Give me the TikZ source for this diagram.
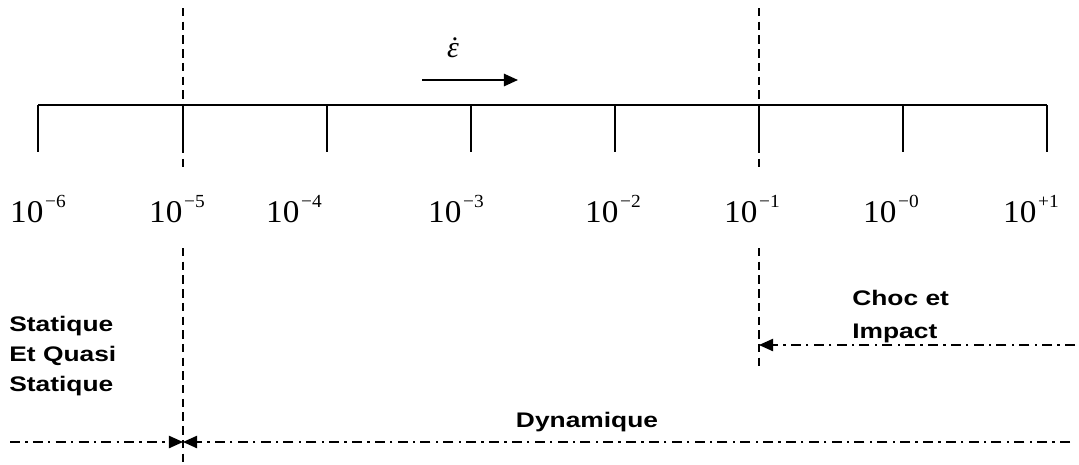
\documentclass[tikz,border=0pt]{standalone}
\usepackage{fontspec}
\setmainfont{Liberation Serif}
\newfontfamily\powerfont[FakeStretch=1.05]{Liberation Serif}
\newfontfamily\zonefont[FakeStretch=1.25]{Liberation Sans}
\usetikzlibrary{arrows.meta,positioning}
\tikzset{
  axisline/.style={line width=1.1pt},
  limitline/.style={line width=0.8pt,dash pattern=on 4.8pt off 3pt},
  rangeline/.style={line width=0.8pt,dash pattern=on 5.7pt off 3pt on 1.3pt off 3pt,-{Triangle[length=8pt,width=7pt]}},
  power/.style={font=\powerfont\fontsize{18}{20}\selectfont,inner sep=0pt},
  zone/.style={font=\zonefont\bfseries\fontsize{12}{17}\selectfont,align=left,inner sep=0pt},
}
\newcommand{\puiss}[1]{10\kern1pt\raisebox{8.5pt}{\fontsize{10.5}{11}\selectfont #1}}

\begin{document}
\begin{tikzpicture}[x=0.02cm,y=-0.02cm]
  \useasboundingbox (0,0) rectangle (1079,464);
  % echelle des vitesses de deformation
  \foreach \i/\x in {1/38,2/183,3/327,4/471,5/615,6/759,7/903,8/1047}{
    \coordinate (t\i) at (\x,105);
    \coordinate (b\i) at (\x,152);
    \draw[axisline] (t\i) -- (b\i);
  }
  \draw[axisline] (t1) -- (t8);
  \foreach \i/\x/\p in {1/38/−6,2/177/−5,3/294/−4,4/456/−3,5/613/−2,6/752/−1,7/891/−0,8/1031/+1}
    \node[power,anchor=base] (l\i) at (\x,222) {\puiss{\p}};
  % sens croissant
  \node[inner sep=0pt,anchor=base,font=\fontsize{17}{20}\selectfont\itshape] (eps) at (453,57) {\accent"02D9 ε};
  \coordinate (ea) at (422,80);
  \coordinate (eb) at (518,80);
  \draw[line width=1.1pt,-{Triangle[length=8pt,width=7pt]}] (ea) -- (eb);
  % limites des domaines
  \coordinate (v2top) at (183,8);
  \coordinate (v2a) at (183,170);
  \coordinate (v2b) at (183,248);
  \coordinate (v2bot) at (183,464);
  \draw[limitline] (v2top) -- (v2a) (v2b) -- (v2bot);
  \coordinate (v6top) at (759,8);
  \coordinate (v6a) at (759,170);
  \coordinate (v6b) at (759,248);
  \coordinate (v6bot) at (759,366);
  \draw[limitline] (v6top) -- (v6a) (v6b) -- (v6bot);
  % domaines
  \node[zone,anchor=north west] (stat) at (9,316) {Statique\\Et Quasi\\Statique};
  \node[zone,anchor=north west,font=\zonefont\bfseries\fontsize{12}{18.8}\selectfont] (choc) at (852,290) {Choc et\\Impact};
  \node[zone,anchor=base] (dyn) at (587,427) {Dynamique};
  \coordinate (sg) at (10,442);
  \coordinate (sd) at (183,442);
  \coordinate (dd) at (1070,442);
  \coordinate (cd) at (1075,345);
  \coordinate (cg) at (759,345);
  \draw[rangeline] (sg) -- (sd);
  \draw[rangeline] (dd) -- (sd);
  \draw[rangeline] (cd) -- (cg);
\end{tikzpicture}
\end{document}
